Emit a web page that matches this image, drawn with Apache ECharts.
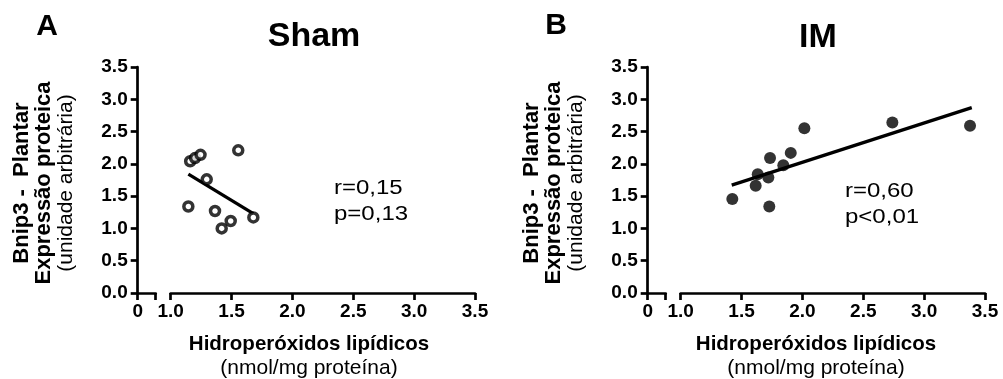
<!DOCTYPE html>
<html>
<head>
<meta charset="utf-8">
<script src="https://cdn.jsdelivr.net/npm/echarts@6/dist/echarts.min.js"></script>
<style>
html,body{margin:0;padding:0;background:#fff;}
#chart{width:1003px;height:379px;}
</style>
</head>
<body>
<div id="chart"></div>
<script>
// Sham (A) - hollow circles
var shamX = [1.145, 1.16, 1.20, 1.245, 1.555, 1.296, 1.364, 1.419, 1.493, 1.679];
var shamY = [1.34, 2.04, 2.09, 2.14, 2.21, 1.76, 1.27, 1.00, 1.115, 1.17];
var shamFitX = [1.145, 1.679];
var shamFitY = [1.84, 1.23];

// IM (B) - filled circles
var imX = [1.424, 1.616, 1.633, 1.72, 1.734, 1.728, 1.843, 1.904, 2.016, 2.739, 3.377];
var imY = [1.456, 1.66, 1.84, 1.79, 2.09, 1.34, 1.98, 2.17, 2.55, 2.64, 2.59];
var imFitX = [1.419, 3.391];
var imFitY = [1.67, 2.87];

var yTickLabels = ['0.0', '0.5', '1.0', '1.5', '2.0', '2.5', '3.0', '3.5'];
var xTickLabels = ['1.0', '1.5', '2.0', '2.5', '3.0', '3.5'];
var xBreakLabel = '0';

var FONT = 'Liberation Sans';
var TOP = 67, H = 226;

function pairs(xs, ys){
  return xs.map(function(x, i){ return [x, ys[i]]; });
}

var axisLine = {show:true, lineStyle:{color:'#000', width:2.7}};
var axisTick = {show:true, inside:false, length:7, lineStyle:{color:'#000', width:2.7}};
var labelStyle = {color:'#000', fontFamily:FONT, fontWeight:'bold', fontSize:19};

function smallX(gi){
  return {
    gridIndex:gi, type:'value', min:0, max:1, interval:1,
    axisLine:axisLine, axisTick:axisTick, splitLine:{show:false},
    axisLabel:Object.assign({margin:9, formatter:function(v){ return v === 0 ? xBreakLabel : ''; }}, labelStyle)
  };
}
function mainX(gi){
  return {
    gridIndex:gi, type:'value', min:1, max:3.5, interval:0.5,
    axisLine:axisLine, axisTick:axisTick, splitLine:{show:false},
    axisLabel:Object.assign({margin:9, formatter:function(v){ return xTickLabels[Math.round((v - 1) / 0.5)]; }}, labelStyle)
  };
}
function shownY(gi){
  return {
    gridIndex:gi, type:'value', min:0, max:3.5, interval:0.5,
    axisLine:axisLine, axisTick:axisTick, splitLine:{show:false},
    axisLabel:Object.assign({margin:10, formatter:function(v){ return yTickLabels[Math.round(v / 0.5)]; }}, labelStyle)
  };
}
function hiddenY(gi){
  return {gridIndex:gi, type:'value', min:0, max:3.5, show:false, splitLine:{show:false}};
}

function yTitle(cx){
  return {
    type:'text', x:cx, y:183, rotation:Math.PI / 2,
    style:{
      text:'{b|Bnip3 -  Plantar}\n{b|Expressão proteica}\n{n|(unidade arbitrária)}',
      align:'center', verticalAlign:'middle',
      rich:{
        b:{font:'bold 22px ' + FONT, fill:'#000', lineHeight:22.5, align:'center'},
        n:{font:'21px ' + FONT, fill:'#000', lineHeight:22.5, align:'center'}
      }
    }
  };
}
function xTitle(cx){
  return {
    type:'text', x:cx, y:356,
    style:{
      text:'{b|Hidroperóxidos lipídicos}\n{n|(nmol/mg proteína)}',
      align:'center', verticalAlign:'middle',
      rich:{
        b:{font:'bold 20.5px ' + FONT, fill:'#000', lineHeight:24, align:'center'},
        n:{font:'21px ' + FONT, fill:'#000', lineHeight:24, align:'center'}
      }
    }
  };
}
function txt(x, y, s, font){
  return {type:'text', x:x, y:y, style:{text:s, font:font, fill:'#000', align:'center', verticalAlign:'middle'}};
}
function stat(x, y, s){
  return {type:'text', x:x, y:y, scaleX:1.2, style:{text:s, font:'20px ' + FONT, fill:'#000', align:'left', verticalAlign:'middle'}};
}

var chart = echarts.init(document.getElementById('chart'), null, {renderer:'canvas'});
chart.setOption({
  animation:false,
  backgroundColor:'#fff',
  grid:[
    {left:137.7, top:TOP, width:18, height:H},
    {left:170.7, top:TOP, width:304.3, height:H},
    {left:647.7, top:TOP, width:18, height:H},
    {left:680.7, top:TOP, width:304.3, height:H}
  ],
  xAxis:[smallX(0), mainX(1), smallX(2), mainX(3)],
  yAxis:[shownY(0), hiddenY(1), shownY(2), hiddenY(3)],
  series:[
    {
      type:'scatter', xAxisIndex:1, yAxisIndex:1, data:pairs(shamX, shamY),
      symbol:'circle', symbolSize:9,
      itemStyle:{color:'#fff', borderColor:'#000', borderWidth:3.5}, z:3
    },
    {
      type:'line', xAxisIndex:1, yAxisIndex:1, data:pairs(shamFitX, shamFitY),
      showSymbol:false, lineStyle:{color:'#000', width:3.3}, z:2
    },
    {
      type:'scatter', xAxisIndex:3, yAxisIndex:3, data:pairs(imX, imY),
      symbol:'circle', symbolSize:12, itemStyle:{color:'#000'}, z:3
    },
    {
      type:'line', xAxisIndex:3, yAxisIndex:3, data:pairs(imFitX, imFitY),
      showSymbol:false, lineStyle:{color:'#000', width:3.3}, z:2
    }
  ],
  graphic:[
    txt(47, 27, 'A', 'bold 30px ' + FONT),
    txt(556, 26, 'B', 'bold 30px ' + FONT),
    txt(314, 37, 'Sham', 'bold 34px ' + FONT),
    txt(818, 38, 'IM', 'bold 34px ' + FONT),
    yTitle(44), yTitle(554),
    xTitle(309), xTitle(816),
    stat(334, 188, 'r=0,15'),
    stat(334, 214, 'p=0,13'),
    stat(845, 191, 'r=0,60'),
    stat(845, 217, 'p<0,01')
  ]
});
</script>
</body>
</html>
